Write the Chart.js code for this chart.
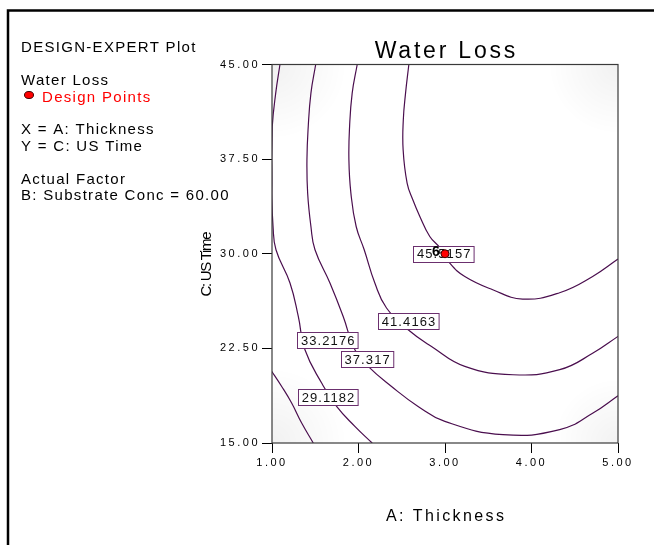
<!DOCTYPE html>
<html lang="en">
<head>
  <meta charset="UTF-8" />
  <title>Water Loss</title>
  <script src="https://cdn.jsdelivr.net/npm/chart.js"></script>
  <style>
    html, body { margin: 0; padding: 0; background: #fff; }
    #chart-container { width: 654px; height: 545px; position: relative; }
  </style>
</head>
<body>
  <div id="chart-container">
    <canvas id="chart"></canvas>
  </div>

  <script>
    // contour levels of Water Loss and where their labels sit (A, C units)
    const levels = [29.1182, 33.2176, 37.317, 41.4163, 45.5157];
    const labelX = [1.647, 1.644, 2.099, 2.578, 2.985];
    const labelY = [18.61, 23.15, 21.66, 24.67, 30.0];

    // contour traces: x = A: Thickness, y = C: US Time
    const c29x = [0.98, 1.112, 1.227, 1.343, 1.477];
    const c29y = [20.85, 19.48, 18.17, 16.58, 15.0];

    const c33x = [1.092, 1.043, 1.003, 0.996, 0.997, 1.012, 1.046, 1.208, 1.304, 1.381, 1.574, 1.747, 1.958, 2.158];
    const c33y = [45.0, 42.73, 40.09, 37.45, 34.81, 32.16, 30.32, 27.68, 25.03, 22.39, 19.75, 17.90, 16.32, 15.0];

    const c37x = [1.505, 1.450, 1.419, 1.404, 1.412, 1.450, 1.497, 1.670, 1.823, 1.958, 2.112, 2.382, 2.689, 2.998, 3.671, 4.326, 4.711, 5.0];
    const c37y = [45.0, 42.73, 40.09, 37.45, 34.81, 32.16, 30.32, 27.68, 25.03, 22.39, 21.07, 19.48, 17.90, 16.71, 15.66, 16.06, 17.38, 18.75];

    const c41x = [1.985, 1.927, 1.897, 1.889, 1.912, 1.973, 2.066, 2.189, 2.324, 2.574, 2.844, 3.229, 3.786, 4.326, 4.711, 5.0];
    const c41y = [45.0, 42.73, 40.09, 37.45, 34.81, 32.16, 30.32, 27.68, 25.70, 23.98, 22.65, 21.07, 20.41, 20.81, 22.13, 23.45];

    const c45x = [2.582, 2.544, 2.518, 2.516, 2.562, 2.628, 2.709, 2.824, 2.940, 3.055, 3.229, 3.552, 3.898, 4.325, 4.707, 5.0];
    const c45y = [45.0, 42.73, 40.62, 38.24, 35.60, 34.28, 32.96, 31.37, 30.48, 29.26, 28.20, 27.15, 26.41, 26.91, 28.20, 29.58];

    // design points (with replicate count)
    const designX = [3.0];
    const designY = [30.0];
    const designCount = ['6'];

    const xTicks = [1, 2, 3, 4, 5];
    const yTicks = [15, 22.5, 30, 37.5, 45];

    const infoLines = [
      { text: 'DESIGN-EXPERT Plot', y: 52, color: '#000' },
      { text: 'Water Loss', y: 85, color: '#000' },
      { text: 'Design Points', y: 101.5, color: '#ff0000', x: 42 },
      { text: 'X = A: Thickness', y: 134, color: '#000' },
      { text: 'Y = C: US Time', y: 151, color: '#000' },
      { text: 'Actual Factor', y: 184, color: '#000' },
      { text: 'B: Substrate Conc = 60.00', y: 200, color: '#000' }
    ];

    const FONT = '"Liberation Sans", Arial, sans-serif';
    const LINE = '#4a0e4e';

    const zip = (xs, ys) => xs.map((x, i) => ({ x: x, y: ys[i] }));
    const traces = [[c29x, c29y], [c33x, c33y], [c37x, c37y], [c41x, c41y], [c45x, c45y]];

    function spaced(ctx, text, x, y, spacing, align) {
      ctx.letterSpacing = spacing + 'px';
      const w = ctx.measureText(text).width - spacing;
      let sx = x;
      if (align === 'center') sx = x - w / 2;
      else if (align === 'right') sx = x - w;
      ctx.textAlign = 'left';
      ctx.fillText(text, sx, y);
      ctx.letterSpacing = '0px';
    }

    function shade(ctx, x, y, r, a) {
      const g = ctx.createRadialGradient(x, y, 0, x, y, r);
      g.addColorStop(0, 'rgba(0,0,0,' + a + ')');
      g.addColorStop(1, 'rgba(0,0,0,0)');
      ctx.fillStyle = g;
      ctx.fillRect(x - r, y - r, 2 * r, 2 * r);
    }

    const decor = {
      id: 'decor',
      beforeDraw(chart) {
        chart.ctx.letterSpacing = '2.5px';
      },
      beforeDatasetsDraw(chart) {
        const { ctx, chartArea: a } = chart;
        ctx.save();
        ctx.beginPath();
        ctx.rect(a.left, a.top, a.right - a.left, a.bottom - a.top);
        ctx.clip();
        shade(ctx, a.left, a.top, 75, 0.055);
        shade(ctx, a.right, a.top, 70, 0.055);
        shade(ctx, a.left, a.bottom, 75, 0.055);
        shade(ctx, a.right, a.bottom, 65, 0.05);
        ctx.restore();
      },
      afterDatasetDraw(chart, args) {
        if (args.index !== 1) return;
        const { ctx, scales } = chart;
        ctx.save();
        ctx.font = '13px ' + FONT;
        ctx.textBaseline = 'middle';
        levels.forEach((lv, i) => {
          const txt = String(lv);
          const px = scales.x.getPixelForValue(labelX[i]);
          const py = scales.y.getPixelForValue(labelY[i]);
          ctx.letterSpacing = '1.1px';
          const w = ctx.measureText(txt).width - 1.1 + 7;
          const h = 16;
          ctx.fillStyle = '#fff';
          ctx.fillRect(Math.round(px - w / 2) + 0.5, Math.round(py - h / 2) + 0.5, w, h);
          ctx.strokeStyle = '#6b2f6e';
          ctx.lineWidth = 1;
          ctx.strokeRect(Math.round(px - w / 2) + 0.5, Math.round(py - h / 2) + 0.5, w, h);
          ctx.fillStyle = '#111';
          spaced(ctx, txt, px, py + 1, 1.1, 'center');
        });
        ctx.restore();
      },
      afterDatasetsDraw(chart) {
        const { ctx, scales } = chart;
        ctx.save();
        ctx.font = 'bold 14px ' + FONT;
        ctx.textBaseline = 'middle';
        ctx.fillStyle = '#000';
        designX.forEach((x, i) => {
          const px = scales.x.getPixelForValue(x);
          const py = scales.y.getPixelForValue(designY[i]);
          spaced(ctx, designCount[i], px - 9, py - 2, 0, 'center');
        });
        ctx.restore();
      },
      afterDraw(chart) {
        const { ctx, chartArea: a } = chart;
        ctx.save();
        ctx.letterSpacing = '0px';
        // plot frame
        ctx.strokeStyle = '#3a3a3a';
        ctx.lineWidth = 1.2;
        ctx.strokeRect(a.left, a.top, a.right - a.left, a.bottom - a.top);

        // outer page frame (top and left edges)
        ctx.strokeStyle = '#000';
        ctx.lineWidth = 2.5;
        ctx.beginPath();
        ctx.moveTo(654, 10.5);
        ctx.lineTo(8, 10.5);
        ctx.lineTo(8, 545);
        ctx.stroke();

        // title
        ctx.fillStyle = '#000';
        ctx.textBaseline = 'alphabetic';
        ctx.font = '23px ' + FONT;
        spaced(ctx, 'Water Loss', (a.left + a.right) / 2, 58, 2.8, 'center');

        // axis titles
        ctx.font = '16px ' + FONT;
        spaced(ctx, 'A: Thickness', (a.left + a.right) / 2, 521, 2.4, 'center');
        ctx.save();
        ctx.translate(211, 264);
        ctx.rotate(-Math.PI / 2);
        ctx.font = '15px ' + FONT;
        spaced(ctx, 'C: US Time', 0, 0, -1.3, 'center');
        ctx.restore();

        // info block on the left
        ctx.font = '15px ' + FONT;
        infoLines.forEach(l => {
          ctx.fillStyle = l.color;
          spaced(ctx, l.text, l.x || 21, l.y, 1.3, 'left');
        });
        ctx.beginPath();
        ctx.ellipse(29, 95, 4.5, 3.5, 0, 0, Math.PI * 2);
        ctx.fillStyle = '#ff0000';
        ctx.fill();
        ctx.strokeStyle = '#400000';
        ctx.lineWidth = 1;
        ctx.stroke();
        ctx.restore();
      }
    };

    const datasets = [{
      label: 'Design Points',
      data: zip(designX, designY),
      pointRadius: 4,
      pointBackgroundColor: '#ff0000',
      pointBorderColor: '#3a0000',
      pointBorderWidth: 1,
      showLine: false
    }].concat(traces.map((t, i) => ({
      label: String(levels[i]),
      data: zip(t[0], t[1]),
      showLine: true,
      borderColor: LINE,
      borderWidth: 1.2,
      pointRadius: 0,
      tension: 0.45,
      fill: false
    })));

    new Chart(document.getElementById('chart').getContext('2d'), {
      type: 'scatter',
      data: { datasets: datasets },
      plugins: [decor],
      options: {
        responsive: true,
        maintainAspectRatio: false,
        animation: false,
        events: [],
        layout: { padding: { left: 0, right: 36, top: 64.5, bottom: 0 } },
        plugins: {
          legend: { display: false },
          tooltip: { enabled: false },
          title: { display: false }
        },
        scales: {
          x: {
            type: 'linear',
            min: 1,
            max: 5,
            afterBuildTicks: s => { s.ticks = xTicks.map(v => ({ value: v })); },
            afterFit: s => { s.height = 102; },
            border: { display: false },
            grid: { drawOnChartArea: false, drawTicks: true, tickLength: 10, color: '#000' },
            ticks: {
              color: '#000',
              padding: 3,
              maxRotation: 0,
              font: { family: FONT, size: 11 },
              callback: v => Number(v).toFixed(2)
            }
          },
          y: {
            type: 'linear',
            min: 15,
            max: 45,
            afterBuildTicks: s => { s.ticks = yTicks.map(v => ({ value: v })); },
            afterFit: s => { s.width = 272; },
            border: { display: false },
            grid: { drawOnChartArea: false, drawTicks: true, tickLength: 10, color: '#000' },
            ticks: {
              color: '#000',
              padding: 2,
              font: { family: FONT, size: 11 },
              callback: v => Number(v).toFixed(2)
            }
          }
        }
      }
    });
  </script>
</body>
</html>
